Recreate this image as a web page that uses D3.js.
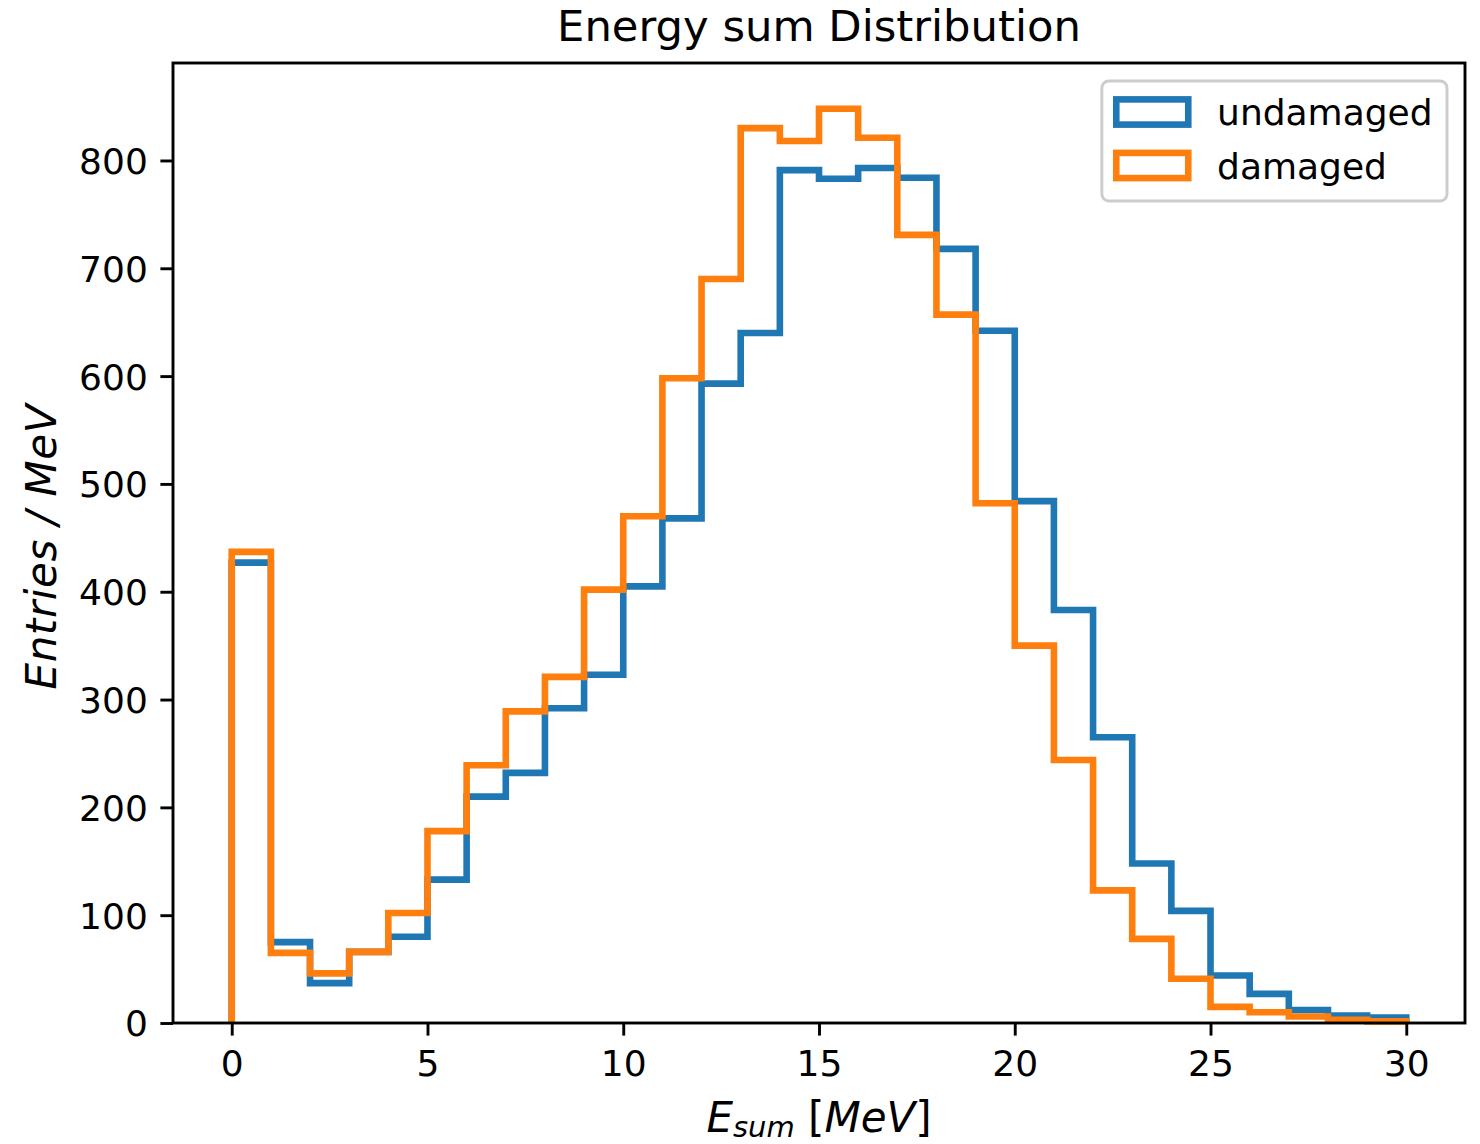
<!doctype html>
<html>
  <head>
    <script src="https://cdn.jsdelivr.net/npm/d3@7/dist/d3.min.js"></script>
    <style>
      body { margin: 0; background: #fff; }
      svg text { font-family: "DejaVu Sans", sans-serif; fill: #000; }
      path.hist { fill: none; stroke-width: 6.6; stroke-linejoin: miter; }
      .tick line { stroke: #000; stroke-width: 2.9; }
      .tick text { font-size: 36px; }
    </style>
  </head>
  <body>
    <svg id="chart" width="1480" height="1144"></svg>
    <script>
      // bin edges 0..30 MeV, 1 MeV wide
      var binEdges = d3.range(0, 31, 1);
      var undamaged = [427, 75, 37, 66, 80, 133, 210, 232, 292, 323,
                       405, 468, 593, 640, 791, 783, 793, 784, 718, 642,
                       484, 383, 265, 148, 104, 44, 27, 12, 7, 5];
      var damaged   = [437, 65, 46, 66, 102, 178, 239, 289, 321, 402,
                       470, 598, 690, 830, 818, 848, 821, 731, 657, 482,
                       350, 244, 123, 78, 41, 15, 10, 6, 3, 1.5];
      var seriesNames = ["undamaged", "damaged"];
      var seriesColors = ["#1f77b4", "#ff7f0e"];
      var xTicks = [0, 5, 10, 15, 20, 25, 30];
      var yTicks = [0, 100, 200, 300, 400, 500, 600, 700, 800];

      var pLeft = 173, pRight = 1465, pTop = 63, pBottom = 1023;
      var svg = d3.select("#chart");

      var x = d3.scaleLinear().domain([-1.5, 31.5]).range([pLeft, pRight]);
      var yMax = d3.max(damaged.concat(undamaged)) * 1.05;
      var y = d3.scaleLinear().domain([0, yMax]).range([pBottom, pTop]);

      function stepPath(counts) {
        var p = "M" + x(binEdges[0]) + "," + y(0);
        counts.forEach(function(c, i) {
          p += "V" + y(c) + "H" + x(binEdges[i + 1]);
        });
        p += "V" + y(0);
        return p;
      }

      var plot = svg.append("g");
      [undamaged, damaged].forEach(function(counts, i) {
        plot.append("path")
          .attr("class", "hist")
          .attr("d", stepPath(counts))
          .style("stroke", seriesColors[i]);
      });

      // axes
      var xAxis = svg.append("g")
        .attr("transform", "translate(0," + pBottom + ")")
        .call(d3.axisBottom(x).tickValues(xTicks).tickSize(12.6).tickPadding(12.6));
      var yAxis = svg.append("g")
        .attr("transform", "translate(" + pLeft + ",0)")
        .call(d3.axisLeft(y).tickValues(yTicks).tickSize(12.6).tickPadding(12.6));
      [xAxis, yAxis].forEach(function(a) {
        a.select(".domain").remove();
        a.attr("font-size", null).attr("font-family", null);
      });
      yAxis.selectAll(".tick text").attr("dy", "0.36em");
      xAxis.selectAll(".tick text").attr("dy", "0.76em");

      svg.append("rect")
        .attr("x", pLeft).attr("y", pTop)
        .attr("width", pRight - pLeft).attr("height", pBottom - pTop)
        .style("fill", "none").style("stroke", "#000").style("stroke-width", 2.9);

      // title & labels
      svg.append("text")
        .attr("x", (pLeft + pRight) / 2).attr("y", 41)
        .attr("text-anchor", "middle")
        .style("font-size", "43.3px")
        .text("Energy sum Distribution");

      svg.append("text")
        .attr("transform", "translate(56,547) rotate(-90)")
        .attr("text-anchor", "middle")
        .attr("textLength", 285).attr("lengthAdjust", "spacing")
        .style("font-size", "42px").style("font-style", "italic")
        .text("Entries / MeV");

      var xl = svg.append("text")
        .attr("x", (pLeft + pRight) / 2).attr("y", 1132)
        .attr("text-anchor", "middle")
        .style("font-size", "42px");
      xl.append("tspan").style("font-style", "italic").text("E");
      xl.append("tspan").style("font-style", "italic").style("font-size", "29px")
        .attr("dy", 5).text("sum");
      xl.append("tspan").attr("dy", -5).text(" [");
      xl.append("tspan").style("font-style", "italic").text("MeV");
      xl.append("tspan").text("]");

      // legend
      var fs = 36;
      var legend = svg.append("g");
      var frame = legend.append("rect")
        .attr("rx", 7).attr("ry", 7)
        .style("fill", "#fff").style("fill-opacity", 0.8)
        .style("stroke", "#cccccc").style("stroke-width", 2.9);
      var labels = [];
      seriesNames.forEach(function(name, i) {
        var cy = 112 + i * 53.5;
        legend.append("rect")
          .attr("class", "lg-patch")
          .attr("y", cy - 12.6).attr("height", 25.2).attr("width", 72)
          .style("fill", "none").style("stroke", seriesColors[i]).style("stroke-width", 6.6);
        labels.push(legend.append("text")
          .attr("y", cy + 13)
          .style("font-size", fs + "px")
          .text(name));
      });
      var maxW = d3.max(labels, function(t) { return t.node().getComputedTextLength(); });
      var boxRight = pRight - 18;
      var boxW = 14.4 + 72 + 28.8 + maxW + 14.4;
      var boxLeft = boxRight - boxW;
      frame.attr("x", boxLeft).attr("y", 81).attr("width", boxW).attr("height", 120);
      legend.selectAll(".lg-patch").attr("x", boxLeft + 14.4);
      labels.forEach(function(t) { t.attr("x", boxLeft + 14.4 + 72 + 28.8); });
    </script>
  </body>
</html>
